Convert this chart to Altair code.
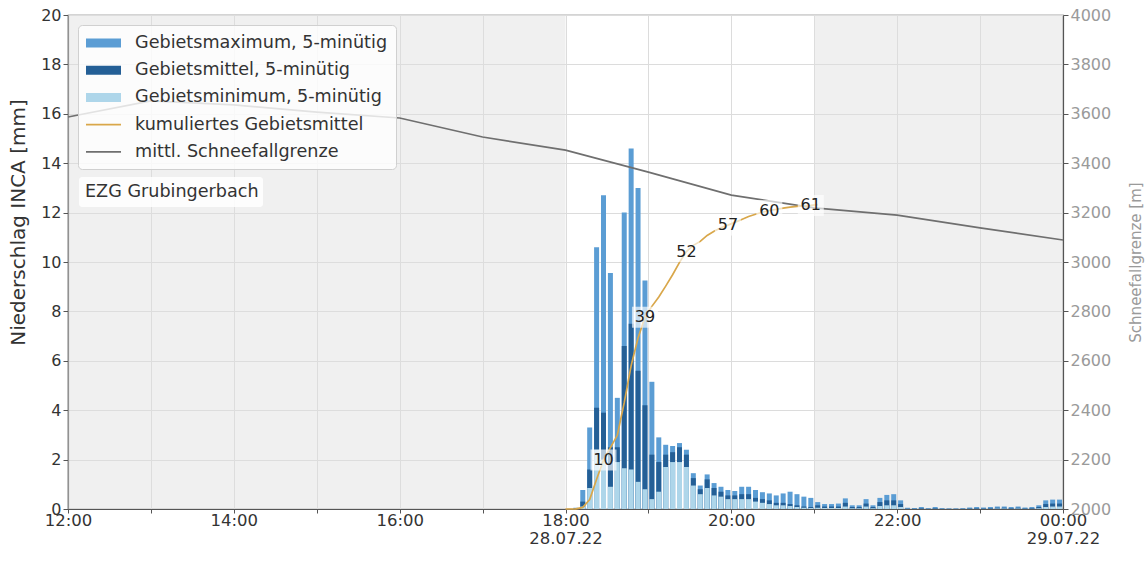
import altair as alt
import numpy as np
import pandas as pd

FONT = "DejaVu Sans"

# --- INCA precipitation, 5-minute intervals (mm), first interval starts 18:05 ---
first_bin = "18:05"
gebietsmaximum = [
    0.05, 0.77, 3.30, 10.60, 12.70, 9.55, 4.50, 12.00, 14.60, 13.00, 9.25,   # 18:05-18:55
    5.15, 2.90, 2.60, 2.55, 2.67, 2.40, 1.45, 0.95, 1.40, 1.05, 0.90, 0.77,  # 19:00-19:55
    0.73, 0.90, 0.90, 0.77, 0.68, 0.63, 0.55, 0.63, 0.70, 0.60, 0.50, 0.45,  # 20:00-20:55
    0.28, 0.20, 0.20, 0.22, 0.43, 0.15, 0.15, 0.40, 0.15, 0.45, 0.57, 0.60,  # 21:00-21:55
    0.35, 0.05, 0.04, 0.08, 0.03, 0.08, 0.03, 0.02, 0.02, 0.03, 0.06, 0.08,  # 22:00-22:55
    0.06, 0.08, 0.10, 0.10, 0.08, 0.10, 0.06, 0.08, 0.15, 0.35, 0.38, 0.38,  # 23:00-23:55
]
gebietsmittel = [
    0.02, 0.30, 1.60, 4.10, 3.90, 2.50, 2.50, 6.60, 7.50, 5.60, 4.20,
    2.20, 1.90, 2.20, 2.30, 2.50, 2.20, 1.25, 0.80, 1.20, 0.85, 0.70, 0.55,
    0.55, 0.60, 0.60, 0.45, 0.40, 0.35, 0.25, 0.25, 0.20, 0.15, 0.10, 0.08,
    0.15, 0.10, 0.10, 0.10, 0.25, 0.08, 0.08, 0.22, 0.08, 0.28, 0.35, 0.35,
    0.20, 0.02, 0.02, 0.04, 0.01, 0.04, 0.01, 0.01, 0.01, 0.01, 0.03, 0.04,
    0.03, 0.04, 0.05, 0.05, 0.04, 0.05, 0.03, 0.04, 0.08, 0.20, 0.22, 0.22,
]
gebietsminimum = [
    0.00, 0.10, 0.85, 2.40, 2.00, 0.90, 1.90, 1.65, 1.60, 1.10, 0.80,
    0.40, 0.70, 1.70, 1.90, 1.90, 1.70, 0.95, 0.60, 0.85, 0.55, 0.50, 0.40,
    0.40, 0.40, 0.40, 0.30, 0.25, 0.20, 0.15, 0.15, 0.12, 0.08, 0.05, 0.04,
    0.05, 0.04, 0.04, 0.04, 0.10, 0.03, 0.03, 0.10, 0.03, 0.12, 0.15, 0.15,
    0.08, 0.01, 0.01, 0.01, 0.00, 0.01, 0.00, 0.00, 0.00, 0.00, 0.01, 0.01,
    0.01, 0.01, 0.02, 0.02, 0.01, 0.02, 0.01, 0.01, 0.03, 0.08, 0.10, 0.10,
]

# --- mean snowfall line (m), hourly -----------------------------------------
snow_times = ["12:00", "13:00", "14:00", "15:00", "16:00", "17:00", "18:00",
              "19:00", "20:00", "21:00", "22:00", "23:00", "00:00"]
snow_height = [3587, 3652, 3636, 3607, 3583, 3506, 3453,
               3364, 3271, 3219, 3190, 3138, 3089]

# --- event window, shaded periods, labelled sums ------------------------------
event_window = ("18:00", "21:00")
shaded_periods = [("12:00", "18:00"), ("21:00", "00:00")]
label_times = ["18:25", "18:55", "19:25", "19:55", "20:25", "20:55"]

catchment = "EZG Grubingerbach"
legend_names = ["Gebietsmaximum, 5-minütig", "Gebietsmittel, 5-minütig",
                "Gebietsminimum, 5-minütig", "kumuliertes Gebietsmittel",
                "mittl. Schneefallgrenze"]

x_tick_labels = {
    "12:00": ["12:00"], "14:00": ["14:00"], "16:00": ["16:00"],
    "18:00": ["18:00", "28.07.22"], "20:00": ["20:00"], "22:00": ["22:00"],
    "00:00": ["00:00", "29.07.22"],
}

C_MAX = "#5b9dd4"
C_MEAN = "#245f96"
C_MIN = "#aed6ea"
C_CUM = "#d9a74a"
C_SNOW = "#6f6f6f"


def minutes(hhmm):
    """Minutes after 12:00 on 28.07.22."""
    h, m = map(int, hhmm.split(":"))
    return ((h - 12) % 24) * 60 + m


# ---------------------------------------------------------------------------
t0 = minutes(first_bin)
starts = [t0 + 5 * i for i in range(len(gebietsmittel))]
bars = pd.DataFrame({
    "start": starts,
    "t": [s + 2.5 for s in starts],          # bar drawn at interval centre
    "max": gebietsmaximum,
    "mean": gebietsmittel,
    "min": gebietsminimum,
})

ev_start, ev_end = minutes(event_window[0]), minutes(event_window[1])
in_event = bars[(bars.start >= ev_start) & (bars.start <= ev_end)]
cum = pd.DataFrame({
    "start": [ev_start] + list(in_event.start),
    "t": [ev_start] + list(in_event.t),
    "cum": [0.0] + list(np.cumsum(in_event["mean"].to_numpy())),
})
labels = cum[cum.start.isin([minutes(s) for s in label_times])]

snow = pd.DataFrame({"t": [minutes(s) for s in snow_times], "m": snow_height})
shade = pd.DataFrame({"t": [minutes(a) for a, _ in shaded_periods],
                      "t_end": [minutes(b) for _, b in shaded_periods]})

parts = []
for hhmm, lines in x_tick_labels.items():
    arr = "[" + ",".join(f"'{s}'" for s in lines) + "]"
    parts.append(f"datum.value == {minutes(hhmm)} ? {arr} : ")
label_expr = "".join(parts) + "''"

x_scale = alt.Scale(domain=[0, 720], nice=False, zero=False, padding=0)
x_axis = alt.Axis(
    values=list(range(0, 721, 60)), labelExpr=label_expr, title=None,
    grid=True, gridColor="#dcdcdc", labelLineHeight=18, labelPadding=-1,
    labelFontSize=16.5, labelColor="#333333", tickSize=4, labelFlush=False,
    labelOverlap=False)
x_enc = alt.X("t:Q", scale=x_scale, axis=x_axis)

y_mm = alt.Y("max:Q", scale=alt.Scale(domain=[0, 20], nice=False),
             axis=alt.Axis(values=list(range(0, 21, 2)), title="Niederschlag INCA [mm]",
                           grid=True, gridColor="#dcdcdc", labelFontSize=16,
                           labelColor="#333333", titleColor="#333333",
                           titleFontSize=20, titleFontWeight="normal",
                           titleX=-50, titleY=207, titleAngle=270,
                           titleAlign="center", titleBaseline="middle", tickSize=5))

shading = alt.Chart(shade).mark_rect(color="#dedede", opacity=0.45).encode(
    x=x_enc, x2="t_end:Q")

bar_max = alt.Chart(bars).mark_bar(size=5, color=C_MAX).encode(x=x_enc, y=y_mm)
bar_mean = alt.Chart(bars).mark_bar(size=5, color=C_MEAN).encode(x=x_enc, y="mean:Q")
bar_min = alt.Chart(bars).mark_bar(size=5, color=C_MIN).encode(x=x_enc, y="min:Q")

# legend key: built only from the scales, no marks drawn
rect_path = "M-1,-0.45H2.5V0.45H-1Z"
line_path = "M-1,-0.09H2.5V0.09H-1Z"
legend = alt.Legend(
    title=None, orient="none", legendX=10, legendY=10,
    fillColor="rgba(255,255,255,0.8)", strokeColor="#d0d0d0", cornerRadius=4,
    padding=8, labelFont=FONT, labelFontSize=17.6, labelColor="#333333",
    symbolSize=400, symbolStrokeWidth=0, symbolOpacity=1,
    labelOffset=29, rowPadding=8.2, labelLimit=400)
legend_key = alt.Chart(pd.DataFrame({"series": legend_names})).transform_filter(
    "false").mark_point(filled=True).encode(
    color=alt.Color("series:N", scale=alt.Scale(
        domain=legend_names, range=[C_MAX, C_MEAN, C_MIN, C_CUM, C_SNOW]),
        legend=legend, sort=legend_names),
    shape=alt.Shape("series:N", scale=alt.Scale(
        domain=legend_names, range=[rect_path] * 3 + [line_path] * 2),
        legend=legend, sort=legend_names),
)

ezg_box = alt.Chart(pd.DataFrame({"label": [catchment]})).mark_rect(
    color="white", opacity=0.85, cornerRadius=3).encode(
    x=alt.value(11), x2=alt.value(195), y=alt.value(162), y2=alt.value(192))
ezg_text = alt.Chart(pd.DataFrame({"label": [catchment]})).mark_text(
    align="left", baseline="middle", font=FONT, fontSize=17.6, color="#333333").encode(
    x=alt.value(17), y=alt.value(177), text="label:N")

left = alt.layer(shading, bar_max, bar_mean, bar_min, ezg_box, ezg_text, legend_key)

snow_line = alt.Chart(snow).mark_line(color=C_SNOW, strokeWidth=1.7).encode(
    x=x_enc,
    y=alt.Y("m:Q", scale=alt.Scale(domain=[2000, 4000], nice=False),
            axis=alt.Axis(orient="right", values=list(range(2000, 4001, 200)),
                          format="d", title="Schneefallgrenze [m]", grid=False,
                          labelFontSize=16, labelColor="#9a9a9a",
                          titleColor="#9a9a9a", titleFontSize=15, titleAngle=270,
                          titleX=72, titleY=247, titleAlign="center",
                          titleBaseline="middle", titleFontWeight="normal",
                          tickSize=5)))

y_cum = alt.Y("cum:Q", scale=alt.Scale(domain=[0, 100], nice=False), axis=None)
cum_line = alt.Chart(cum).mark_line(color=C_CUM, strokeWidth=1.7).encode(x=x_enc, y=y_cum)
cum_box = alt.Chart(labels).mark_rect(width=26, height=21, color="white", opacity=0.65).encode(
    x=x_enc, y=y_cum)
cum_text = alt.Chart(labels).mark_text(font=FONT, fontSize=16, color="#222222").encode(
    x=x_enc, y=y_cum, text=alt.Text("cum:Q", format=".0f"))
cum_layer = alt.layer(cum_line, cum_box, cum_text)

chart = alt.layer(left, snow_line, cum_layer).resolve_scale(y="independent").properties(
    width=995, height=494,
    autosize=alt.AutoSizeParams(type="none"),
    padding={"left": 68, "top": 15, "right": 84, "bottom": 54},
).configure(font=FONT).configure_view(
    stroke="#555555", strokeWidth=1.2
).configure_axis(
    labelFont=FONT, titleFont=FONT, domainColor="#555555", domainWidth=1.2,
    tickColor="#555555",
)

chart.save("out.html", embed_options={"renderer": "svg", "actions": False})
